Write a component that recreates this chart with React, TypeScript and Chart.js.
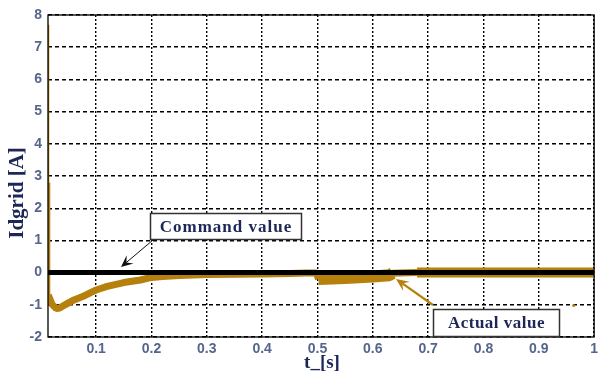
import { useEffect, useRef } from "react";
import { Chart, registerables } from "chart.js";

Chart.register(...registerables);

// Measured d-axis grid current (time in s, current in A)
const timeS = [
  0.0135, 0.0135, 0.0135, 0.02, 0.028, 0.034, 0.04, 0.05, 0.06, 0.07, 0.08, 0.09,
  0.1, 0.12, 0.15, 0.18, 0.2, 0.22, 0.25, 0.3, 0.35, 0.4, 0.45, 0.48, 0.498,
  0.502, 0.55, 0.6, 0.63, 0.636, 0.68, 0.7, 0.8, 0.9, 1.0,
];
const idActual = [
  7.7, 2.8, -0.7, -0.98, -1.12, -1.1, -1.04, -0.94, -0.85, -0.78, -0.71, -0.62,
  -0.54, -0.43, -0.31, -0.23, -0.15, -0.12, -0.09, -0.06, -0.05, -0.04, -0.03, -0.01, -0.01,
  -0.2, -0.17, -0.12, -0.08, -0.02, 0.0, 0.0, 0.0, 0.0, 0.0,
];

// Reference (command) current
const commandTime = [0.013, 1.0];
const commandValue = [0, 0];

// Isolated sample below the trace
const strayTime = [0.963];
const strayValue = [-1.02];

// Axis ticks
const xTickValues = [0.1, 0.2, 0.3, 0.4, 0.5, 0.6, 0.7, 0.8, 0.9, 1.0];
const yTickValues = [-2, -1, 0, 1, 2, 3, 4, 5, 6, 7, 8];

const X_MIN = 0.013;
const X_MAX = 1.0;
const Y_MIN = -2;
const Y_MAX = 8;

const TRACE = "#b5800c";
const NAVY = "#1c2757";
const TICK = "#56658c";

function drawArrow(
  ctx: CanvasRenderingContext2D,
  x1: number,
  y1: number,
  x2: number,
  y2: number,
  color: string,
  width: number,
  head: number
) {
  const ang = Math.atan2(y2 - y1, x2 - x1);
  const notch = head * 0.55;
  ctx.save();
  ctx.strokeStyle = color;
  ctx.fillStyle = color;
  ctx.lineWidth = width;
  ctx.beginPath();
  ctx.moveTo(x1, y1);
  ctx.lineTo(x2 - Math.cos(ang) * notch, y2 - Math.sin(ang) * notch);
  ctx.stroke();
  const a = 0.42;
  ctx.beginPath();
  ctx.moveTo(x2, y2);
  ctx.lineTo(x2 - Math.cos(ang - a) * head, y2 - Math.sin(ang - a) * head);
  ctx.lineTo(x2 - Math.cos(ang) * notch, y2 - Math.sin(ang) * notch);
  ctx.lineTo(x2 - Math.cos(ang + a) * head, y2 - Math.sin(ang + a) * head);
  ctx.closePath();
  ctx.fill();
  ctx.restore();
}

function drawLabelBox(
  ctx: CanvasRenderingContext2D,
  x: number,
  y: number,
  w: number,
  h: number,
  text: string,
  spacing: string
) {
  ctx.save();
  ctx.fillStyle = "#ffffff";
  ctx.fillRect(x, y, w, h);
  ctx.strokeStyle = "#333333";
  ctx.lineWidth = 1.5;
  ctx.strokeRect(x, y, w, h);
  ctx.fillStyle = NAVY;
  ctx.font = 'bold 17px "Liberation Serif", serif';
  (ctx as any).letterSpacing = spacing;
  ctx.textAlign = "center";
  ctx.textBaseline = "middle";
  ctx.fillText(text, x + w / 2, y + h / 2 + 1);
  ctx.restore();
}

const decorations = {
  id: "decorations",
  afterDatasetsDraw(chart: any) {
    const { ctx, chartArea } = chart;
    const { left, top, right, bottom } = chartArea;

    // plot frame
    ctx.save();
    ctx.strokeStyle = "#000000";
    ctx.lineWidth = 1.3;
    ctx.strokeRect(left, top, right - left, bottom - top);
    ctx.restore();

    // annotations
    drawLabelBox(ctx, 150.5, 213.5, 151, 26, "Command value", "1px");
    drawArrow(ctx, 153, 240, 121, 267, "#111111", 1, 13);

    drawArrow(ctx, 433, 305, 396, 279, TRACE, 2.2, 14);
    drawLabelBox(ctx, 433.5, 309.5, 126, 27, "Actual value", "0.5px");

    // axis titles
    ctx.save();
    ctx.fillStyle = NAVY;
    ctx.font = 'bold 21px "Liberation Serif", serif';
    ctx.textAlign = "center";
    ctx.textBaseline = "middle";
    ctx.translate(18, 193);
    ctx.rotate(-Math.PI / 2);
    ctx.fillText("Idgrid [A]", 0, 0);
    ctx.restore();

    ctx.save();
    ctx.fillStyle = NAVY;
    ctx.font = 'bold 19px "Liberation Serif", serif';
    ctx.textAlign = "center";
    ctx.textBaseline = "middle";
    ctx.fillText("t_[s]", 322, 363);
    ctx.restore();
  },
};

export default function App() {
  const canvasRef = useRef<HTMLCanvasElement | null>(null);

  useEffect(() => {
    if (!canvasRef.current) return;
    const actualPts = timeS.map((t, i) => ({ x: t, y: idActual[i] }));
    const commandPts = commandTime.map((t, i) => ({ x: t, y: commandValue[i] }));
    const strayPts = strayTime.map((t, i) => ({ x: t, y: strayValue[i] }));

    const chart = new Chart(canvasRef.current, {
      type: "line",
      data: {
        datasets: [
          {
            label: "Command value",
            data: commandPts,
            borderColor: "#000000",
            borderWidth: 5,
            pointRadius: 0,
            order: 0,
          },
          {
            label: "Actual value",
            data: actualPts,
            borderColor: TRACE,
            borderWidth: 7,
            pointRadius: 0,
            borderJoinStyle: "bevel",
            borderCapStyle: "butt",
            order: 1,
            segment: {
              borderWidth: (ctx: any) => {
                const i = ctx.p0DataIndex;
                const t = ctx.p0.parsed.x;
                if (i === 0) return 2;
                if (i === 1) return 4;
                if (t >= 0.5 && t < 0.632) return 12;
                if (t >= 0.68) return 10;
                return 7;
              },
            },
          },
          {
            label: "stray",
            data: strayPts,
            showLine: false,
            pointRadius: 1.5,
            pointBackgroundColor: TRACE,
            pointBorderWidth: 0,
            order: 2,
          },
        ],
      },
      options: {
        responsive: false,
        animation: false,
        layout: { padding: { top: 15, right: 2, left: 0, bottom: 0 } },
        plugins: {
          legend: { display: false },
          tooltip: { enabled: false },
        },
        scales: {
          x: {
            type: "linear",
            min: X_MIN,
            max: X_MAX,
            afterBuildTicks: (scale: any) => {
              scale.ticks = xTickValues.map((v) => ({ value: v }));
            },
            afterFit: (scale: any) => {
              scale.height = 36;
            },
            ticks: {
              autoSkip: false,
              maxRotation: 0,
              padding: 4,
              color: TICK,
              font: { family: '"Liberation Sans", Arial, sans-serif', size: 14, weight: "bold" },
              callback: (v: any) => (Number(v) === 1 ? "1" : Number(v).toFixed(1)),
            },
            grid: { color: "#000000", lineWidth: 1.4, drawTicks: false },
            border: { display: false, dash: [2, 2] },
          },
          y: {
            type: "linear",
            min: Y_MIN,
            max: Y_MAX,
            afterBuildTicks: (scale: any) => {
              scale.ticks = yTickValues.map((v) => ({ value: v }));
            },
            afterFit: (scale: any) => {
              scale.width = 48;
            },
            ticks: {
              autoSkip: false,
              padding: 6,
              color: TICK,
              font: { family: '"Liberation Sans", Arial, sans-serif', size: 14, weight: "bold" },
              callback: (v: any) => String(v),
            },
            grid: { color: "#000000", lineWidth: 1.4, drawTicks: false },
            border: { display: false, dash: [4, 3] },
          },
        },
      },
      plugins: [decorations],
    });

    return () => chart.destroy();
  }, []);

  return (
    <div style={{ position: "absolute", left: 0, top: 0, width: 602, height: 373, background: "#ffffff" }}>
      <canvas ref={canvasRef} width={602} height={373} />
    </div>
  );
}
